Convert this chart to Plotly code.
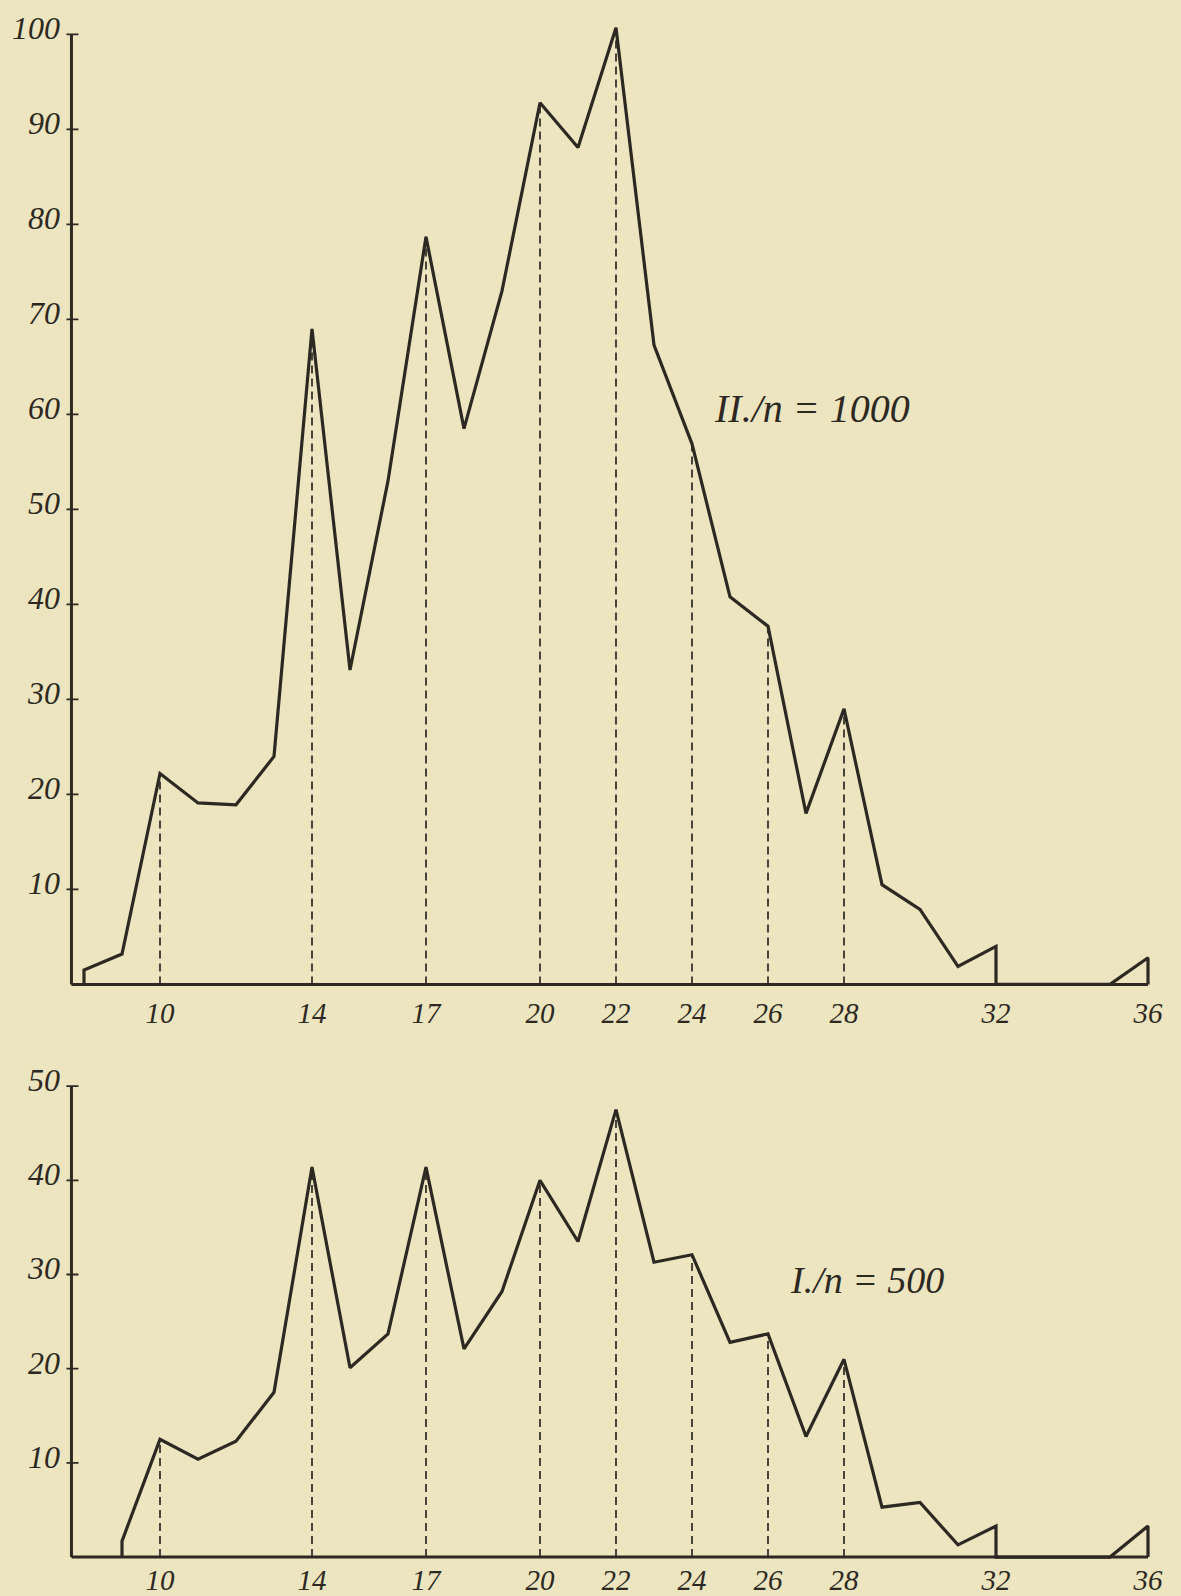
import plotly.graph_objects as go

W, H = 1181, 1596

# ---------------- data ----------------
X_TOP = [8, 9, 10, 11, 12, 13, 14, 15, 16, 17, 18, 19, 20, 21, 22, 23, 24, 25, 26,
         27, 28, 29, 30, 31, 32, 35, 36]
Y_TOP = [1.5, 3.2, 22.2, 19.1, 18.9, 24.0, 69.0, 33.1, 53.0, 78.7, 58.5, 73.0, 92.8,
         88.1, 100.7, 67.3, 56.9, 40.8, 37.7, 18.0, 29.0, 10.5, 7.9, 1.9, 4.0, 0.0, 2.8]

X_BOT = [9, 10, 11, 12, 13, 14, 15, 16, 17, 18, 19, 20, 21, 22, 23, 24, 25, 26,
         27, 28, 29, 30, 31, 32, 35, 36]
Y_BOT = [1.7, 12.5, 10.4, 12.3, 17.5, 41.4, 20.1, 23.7, 41.4, 22.1, 28.2, 40.0, 33.5,
         47.5, 31.3, 32.1, 22.8, 23.7, 12.8, 21.0, 5.3, 5.8, 1.3, 3.3, 0.0, 3.3]

DASH_X = [10, 14, 17, 20, 22, 24, 26, 28]
X_TICKS = [10, 14, 17, 20, 22, 24, 26, 28, 32, 36]
Y_TICKS_TOP = [10, 20, 30, 40, 50, 60, 70, 80, 90, 100]
Y_TICKS_BOT = [10, 20, 30, 40, 50]
LABEL_TOP = "II./n = 1000"
LABEL_BOT = "I./n = 500"

# ---------------- styling / layout ----------------
BG = "#ECE5C0"
INK = "#2D2922"
FONT = "Liberation Serif"
AXIS_X = 7.67          # x value where the vertical axis stands
X_END = 36             # end of the baseline
X_RANGE = [7.3, 36.45]

# pixel geometry (x: x=10 at 160 px, 38.0 px per unit)
X10_PX, PX_PER_X = 160.0, 38.0
def xpx(v):
    return X10_PX + (v - 10) * PX_PER_X

# panel vertical geometry: pixel of y=0, pixels per unit, axis range
TOP_ZERO, TOP_PPU, TOP_RANGE = 987.5, 9.53, [-0.9, 102.5]
BOT_ZERO, BOT_PPU, BOT_RANGE = 1562.0, 9.45, [-0.35, 52.0]

def ydomain(zero_px, ppu, rng):
    top_px = zero_px - rng[1] * ppu
    bot_px = zero_px - rng[0] * ppu
    return [1 - bot_px / H, 1 - top_px / H]

xdom = [xpx(X_RANGE[0]) / W, xpx(X_RANGE[1]) / W]


def polygon_path(xs, ys):
    """Frequency polygon: vertical rise at start, vertical drop before gaps and at the end."""
    px, py = [xs[0]], [0]
    for i, (x, y) in enumerate(zip(xs, ys)):
        if i > 0 and x - xs[i - 1] > 1:
            px.append(xs[i - 1]); py.append(0)
        px.append(x); py.append(y)
    px.append(xs[-1]); py.append(0)
    return px, py


def dash_path(xs, ys, dash_x):
    lookup = dict(zip(xs, ys))
    dx, dy = [], []
    for x in dash_x:
        dx += [x, x, None]
        dy += [0, lookup[x], None]
    return dx, dy


fig = go.Figure()

panels = [
    (X_TOP, Y_TOP, "x", "y", Y_TICKS_TOP),
    (X_BOT, Y_BOT, "x2", "y2", Y_TICKS_BOT),
]

shapes = []
annotations = []
for xs, ys, xa, ya, yticks in panels:
    dx, dy = dash_path(xs, ys, DASH_X)
    fig.add_trace(go.Scatter(x=dx, y=dy, mode="lines", xaxis=xa, yaxis=ya,
                             line=dict(color=INK, width=1.7, dash="8px,5px"),
                             hoverinfo="skip", showlegend=False))
    px, py = polygon_path(xs, ys)
    fig.add_trace(go.Scatter(x=px, y=py, mode="lines", xaxis=xa, yaxis=ya,
                             line=dict(color=INK, width=3.2),
                             showlegend=False))
    # axes drawn as lines
    shapes.append(dict(type="line", xref=xa, yref=ya, x0=AXIS_X, x1=AXIS_X,
                       y0=0, y1=max(yticks), line=dict(color=INK, width=3)))
    shapes.append(dict(type="line", xref=xa, yref=ya, x0=AXIS_X, x1=X_END,
                       y0=0, y1=0, line=dict(color=INK, width=3)))
    for t in yticks:
        shapes.append(dict(type="line", xref=xa, yref=ya, xsizemode="pixel",
                           xanchor=AXIS_X, x0=-5, x1=7, y0=t, y1=t,
                           line=dict(color=INK, width=1.8)))
        annotations.append(dict(xref=xa, yref=ya, x=AXIS_X, y=t, text=str(t),
                                showarrow=False, xanchor="right", yanchor="middle",
                                xshift=-9, yshift=6,
                                font=dict(family=FONT, size=32, color=INK, style="italic")))

annotations.append(dict(xref="x", yref="y", x=27.15, y=60.6, text=LABEL_TOP,
                        showarrow=False, xanchor="center", yanchor="middle",
                        font=dict(family=FONT, size=40, color=INK, style="italic")))
annotations.append(dict(xref="x2", yref="y2", x=28.6, y=29.4, text=LABEL_BOT,
                        showarrow=False, xanchor="center", yanchor="middle",
                        font=dict(family=FONT, size=38, color=INK, style="italic")))

xaxis_common = dict(range=X_RANGE, domain=xdom, showgrid=False, zeroline=False,
                    showline=False, ticks="", tickmode="array", tickvals=X_TICKS,
                    ticktext=[str(v) for v in X_TICKS],
                    tickfont=dict(family=FONT, size=29, color=INK, style="italic"))
yaxis_common = dict(showgrid=False, zeroline=False, showline=False, ticks="",
                    showticklabels=False)

fig.update_layout(
    width=W, height=H,
    margin=dict(l=0, r=0, t=0, b=0),
    paper_bgcolor=BG, plot_bgcolor=BG,
    showlegend=False,
    xaxis=dict(anchor="y", **xaxis_common),
    yaxis=dict(anchor="x", range=TOP_RANGE,
               domain=ydomain(TOP_ZERO, TOP_PPU, TOP_RANGE), **yaxis_common),
    xaxis2=dict(anchor="y2", **xaxis_common),
    yaxis2=dict(anchor="x2", range=BOT_RANGE,
                domain=ydomain(BOT_ZERO, BOT_PPU, BOT_RANGE), **yaxis_common),
    shapes=shapes,
    annotations=annotations,
)

fig.write_html(
    "out.html",
    config={"displayModeBar": False},
    post_script="document.body.style.margin='0';document.body.style.background='%s';" % BG,
)
